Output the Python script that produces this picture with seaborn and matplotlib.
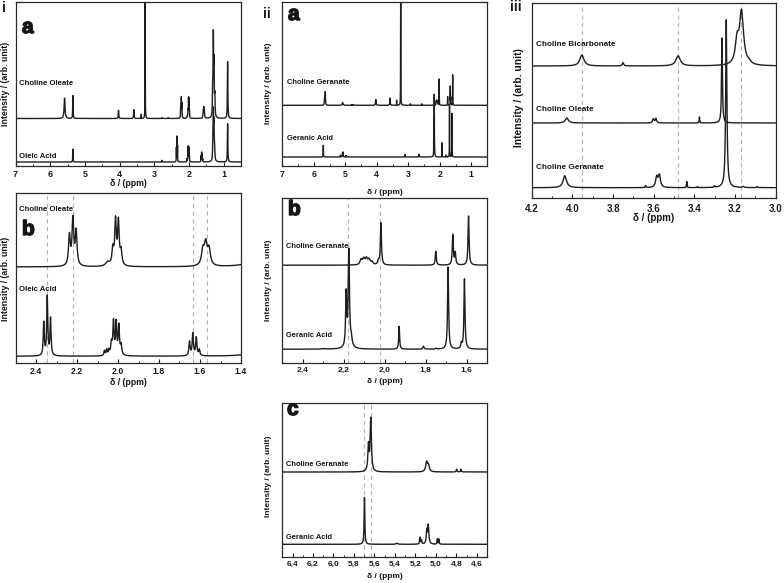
import numpy as np
import matplotlib
matplotlib.use("Agg")
import matplotlib.pyplot as plt
import matplotlib.patheffects as pe
import seaborn as sns
from matplotlib.ticker import MultipleLocator, FuncFormatter

# ---------------- data: peak lists ----------------
# Oleic acid / Choline oleate (heights in units of panel i-b)
OA_ppm = [5.345, 2.78, 2.362, 2.345, 2.329, 2.066, 2.055, 2.044, 2.032, 2.022, 2.009, 1.996, 1.985,
          1.651, 1.635, 1.618, 1.603, 1.31, 1.295, 1.278, 1.26, 0.885]
OA_h = [30, 4, 33, 59, 37, 5, 6, 5, 12, 33, 32, 29, 10, 14, 22, 18, 6, 40, 105, 80, 25, 90]
OA_w = [0.005, 0.004, 0.003, 0.003, 0.003, 0.003, 0.003, 0.003, 0.004, 0.0035, 0.0035, 0.0035, 0.004,
        0.0035, 0.0035, 0.0035, 0.0035, 0.008, 0.008, 0.008, 0.008, 0.007]

CO_ppm = [5.585, 5.345, 4.03, 3.59, 3.375, 3.262, 2.78, 2.60, 2.237, 2.220, 2.204, 2.05, 2.025, 2.012,
          1.998, 1.985, 1.586, 1.572, 1.556, 1.315, 1.297, 1.278, 1.255, 0.885]
CO_h = [48, 54, 19, 21, 10, 330, 2, 2, 30, 46, 34, 4, 16, 44, 43, 14, 15, 21, 16, 60, 180, 115, 45, 134]
CO_w = [0.015, 0.006, 0.008, 0.008, 0.002, 0.003, 0.005, 0.005, 0.005, 0.005, 0.005, 0.012, 0.005, 0.0045,
        0.0045, 0.005, 0.008, 0.008, 0.008, 0.008, 0.008, 0.008, 0.008, 0.007]

# Geranic acid / Choline geranate (heights in units of panel ii-a)
GA_ppm = [5.697, 5.38, 5.155, 5.14, 5.088, 5.073, 4.985, 4.97, 3.10, 2.668, 2.652, 2.30, 2.188, 2.175,
          2.172, 2.163, 1.929, 1.81, 1.75, 1.69, 1.625, 1.61]
GA_h = [11.8, 0.25, 1.7, 1.0, 3.4, 4.6, 1.3, 1.3, 2.5, 2.5, 2.5, 0.3, 33, 58, 3, 4, 14.3, 1.9, 0.5, 51, 3.2, 43.5]
GA_w = [0.004, 0.01, 0.004, 0.004, 0.006, 0.006, 0.003, 0.003, 0.004, 0.004, 0.004, 0.01, 0.003, 0.0035,
        0.012, 0.004, 0.0025, 0.003, 0.003, 0.003, 0.003, 0.003]

CG_ppm = [5.658, 5.635, 5.09, 5.072, 4.796, 4.754, 4.03, 3.58, 3.37, 3.24, 2.93, 2.57, 2.115, 2.102,
          2.089, 2.076, 2.062, 2.03, 2.018, 1.75, 1.667, 1.655, 1.59]
CG_h = [6.5, 13.2, 2.4, 1.6, 0.7, 0.7, 5.7, 7.3, 5, 140, 1.5, 1.5, 3.2, 3.6, 3.8, 3.2, 1.8, 2.5, 26, 8.6,
        19, 7.5, 30.5]
CG_w = [0.007, 0.007, 0.01, 0.01, 0.004, 0.004, 0.01, 0.008, 0.002, 0.003, 0.005, 0.005, 0.006, 0.006,
        0.006, 0.006, 0.006, 0.004, 0.003, 0.003, 0.003, 0.003, 0.003]

# Panel iii (heights in units of panel iii)
CB3_ppm = [3.953, 3.751, 3.48, 3.19, 3.168, 3.13]
CB3_h = [11, 3.3, 10, 22, 53, 2]
CB3_w = [0.012, 0.004, 0.013, 0.01, 0.012, 0.01]
CO3_ppm = [4.027, 3.602, 3.589, 3.375, 3.264]
CO3_h = [5, 4, 4.5, 6, 85]
CO3_w = [0.009, 0.004, 0.004, 0.0015, 0.0025]
CG3_ppm = [4.037, 3.64, 3.585, 3.572, 3.437, 3.385, 3.30, 3.243, 3.16, 3.09]
CG3_h = [12, 2, 10.5, 12, 6, 1, 1.5, 168, 1, 1]
CG3_w = [0.01, 0.002, 0.006, 0.006, 0.0015, 0.002, 0.002, 0.0035, 0.005, 0.003]

# reference (dashed) lines
IB_dash = [2.345, 2.22, 1.633, 1.568]
IIB_dash = [2.177, 2.022]
IIC_dash = [5.697, 5.633]
III_dash = [3.953, 3.48, 3.172]

# ---------------- style ----------------
sns.set_style("white")
plt.rcParams["font.family"] = ["Liberation Sans", "DejaVu Sans"]
plt.rcParams["font.weight"] = "bold"

W, H = 784, 583
fig = plt.figure(figsize=(W / 100, H / 100), dpi=100)
LC = "#1e1e1e"
DC = "#b4b4b4"


def add_ax(x0, y0, x1, y1, xlim):
    ax = fig.add_axes([x0 / W, 1 - y1 / H, (x1 - x0) / W, (y1 - y0) / H])
    ax.set_ylim(0, y1 - y0)
    ax.set_xlim(*xlim)
    ax.set_yticks([])
    for s in ax.spines.values():
        s.set_linewidth(0.9)
        s.set_color("#2a2a2a")
    return ax


def spectrum(grid, ppm, h, w):
    p = np.asarray(ppm)[:, None]
    hh = np.asarray(h)[:, None]
    ww = np.asarray(w)[:, None]
    return (hh / (1 + ((grid[None, :] - p) / ww) ** 2)).sum(axis=0)


def draw(ax, ppm, h, w, scale, offset):
    lo, hi = sorted(ax.get_xlim())
    step = min(w) / 3.0
    grid = np.arange(lo, hi + step, step)
    y = offset + scale * spectrum(grid, ppm, h, w)
    sns.lineplot(x=grid, y=y, ax=ax, color=LC, lw=1.0, estimator=None, sort=False)


def ticks(ax, major, minor, fmt, size=6, pad=3):
    ax.xaxis.set_major_locator(MultipleLocator(major))
    ax.xaxis.set_minor_locator(MultipleLocator(minor))
    ax.xaxis.set_major_formatter(FuncFormatter(fmt))
    ax.tick_params(axis="x", which="major", direction="in", length=3, width=0.8,
                   labelsize=size, pad=pad, bottom=True, colors="#1a1a1a")
    ax.tick_params(axis="x", which="minor", direction="in", length=1.6, width=0.7, bottom=True)
    for t in ax.get_xticklabels():
        t.set_fontweight("bold")


def dashes(ax, xs):
    for x in xs:
        ax.axvline(x, color=DC, lw=0.8, ls=(0, (4, 3)), zorder=0)


def ftext(x, y, s, size, **kw):
    return fig.text(x / W, 1 - y / H, s, fontsize=size, fontweight="bold", color="#151515", **kw)


def letter(x, y, s, size=15):
    t = ftext(x, y, s, size)
    t.set_path_effects([pe.withStroke(linewidth=1.0, foreground="#151515")])


int_fmt = lambda v, p: f"{v:.0f}"
dot_fmt = lambda v, p: f"{v:.1f}"
comma_fmt = lambda v, p: f"{v:.1f}".replace(".", ",")
YL = "Intensity / (arb. unit)"
XL = "δ / (ppm)"

# ---------------- panel i-a ----------------
ax = add_ax(15.5, 2, 241, 166, (7, 0.5))
draw(ax, OA_ppm, OA_h, OA_w, 0.425, 4.0)
draw(ax, CO_ppm, CO_h, CO_w, 0.425, 47.5)
ticks(ax, 1, 0.5, int_fmt, 6.5)
ftext(19, 85, "Choline Oleate", 5.6)
ftext(19, 158, "Oleic Acid", 5.6)
letter(22, 33, "a")
ftext(2, 11.5, "i", 10)
ftext(5.5, 84, YL, 6.3, rotation=90, ha="center", va="center")
ftext(128, 184, XL, 6.3, ha="center", va="center")

# ---------------- panel i-b ----------------
ax = add_ax(15.5, 193, 241, 362.5, (2.5, 1.4))
dashes(ax, IB_dash)
draw(ax, OA_ppm, OA_h, OA_w, 1.0, 6.3)
draw(ax, CO_ppm, CO_h, CO_w, 1.0, 95.6)
ticks(ax, 0.2, 0.1, dot_fmt, 6.3)
ftext(19, 211, "Choline Oleate", 5.6)
ftext(19, 291, "Oleic Acid", 5.6)
letter(22, 235, "b")
ftext(5.5, 279, YL, 6.3, rotation=90, ha="center", va="center")
ftext(128, 382.5, XL, 6.3, ha="center", va="center")

# ---------------- panel ii-a ----------------
ax = add_ax(282.3, 2, 487, 166, (7, 0.5))
draw(ax, GA_ppm, GA_h, GA_w, 1.0, 9.0)
draw(ax, CG_ppm, CG_h, CG_w, 1.0, 60.7)
ticks(ax, 1, 0.5, int_fmt, 6.3)
ftext(287, 84, "Choline Geranate", 5.4)
ftext(287, 140, "Geranic Acid", 5.4)
letter(288, 20, "a")
ftext(263, 18, "ii", 10)
ftext(268.3, 83, YL, 6.0, rotation=90, ha="center", va="center")
ftext(384.5, 192.5, XL, 6.0, ha="center", va="center")

# ---------------- panel ii-b ----------------
ax = add_ax(282.3, 198, 487, 362.5, (2.5, 1.5))
dashes(ax, IIB_dash)
draw(ax, GA_ppm, GA_h, GA_w, 1.61, 13.3)
draw(ax, CG_ppm, CG_h, CG_w, 1.61, 97.3)
ticks(ax, 0.2, 0.1, comma_fmt, 6.0)
ftext(285.7, 248, "Choline Geranate", 5.4)
ftext(285.7, 337, "Geranic Acid", 5.4)
letter(288, 215, "b")
ftext(268.3, 280, YL, 6.0, rotation=90, ha="center", va="center")
ftext(384.5, 381.5, XL, 6.0, ha="center", va="center")

# ---------------- panel ii-c ----------------
ax = add_ax(282.3, 403.3, 487, 557, (6.5, 4.5))
dashes(ax, IIC_dash)
draw(ax, GA_ppm, GA_h, GA_w, 4.0, 12.7)
draw(ax, CG_ppm, CG_h, CG_w, 4.0, 85.0)
ticks(ax, 0.2, 0.1, comma_fmt, 6.0)
ftext(285.7, 466, "Choline Geranate", 5.4)
ftext(285.7, 539, "Geranic Acid", 5.4)
letter(287, 415, "c")
ftext(268.3, 476, YL, 6.0, rotation=90, ha="center", va="center")
ftext(384.5, 576.5, XL, 6.0, ha="center", va="center")

# ---------------- panel iii ----------------
ax = add_ax(531.7, 2.7, 775.7, 198.3, (4.2, 3.0))
dashes(ax, III_dash)
draw(ax, CG3_ppm, CG3_h, CG3_w, 1.0, 10.6)
draw(ax, CO3_ppm, CO3_h, CO3_w, 1.0, 75.3)
draw(ax, CB3_ppm, CB3_h, CB3_w, 1.0, 132.3)
ticks(ax, 0.2, 0.1, dot_fmt, 7.0, pad=4)
ftext(536, 46, "Choline Bicarbonate", 5.9)
ftext(536, 111, "Choline Oleate", 5.9)
ftext(536, 169, "Choline Geranate", 5.9)
ftext(510, 11, "iii", 10)
ftext(519.5, 98, YL, 7.4, rotation=90, ha="center", va="center")
ftext(654, 218.5, XL, 7.0, ha="center", va="center")

fig.savefig("out.png", dpi=100)
